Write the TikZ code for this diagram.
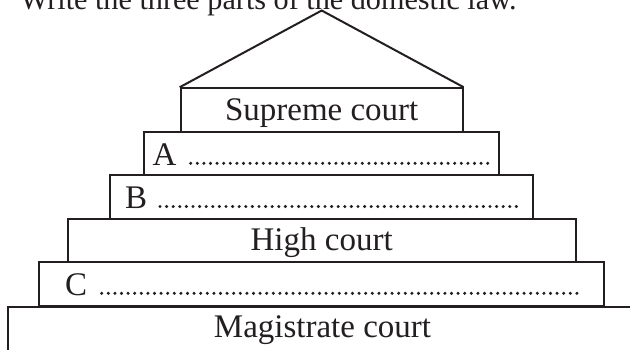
\documentclass[tikz,border=0pt]{standalone}
\usepackage{fontspec}
\setmainfont{Liberation Serif}
\definecolor{ink}{HTML}{231F20}
\begin{document}
\begin{tikzpicture}[x=1pt,y=-1pt,line width=2pt,
  bigtext/.style={font=\fontsize{33}{40}\selectfont, text=ink},
  tier/.style={draw=ink, rectangle, inner sep=0pt, minimum height=43.5pt,
    text height=22pt, text depth=2pt, bigtext},
  lbl/.style={anchor=base west, inner sep=0pt, bigtext},
  leader/.style={draw=ink, line width=3.4pt, line cap=round, dash pattern=on 0pt off 6.6pt}]
\useasboundingbox (0,0) rectangle (630,349);
% title (cut off at top, as in the reference)
\node[anchor=base west, inner sep=0pt, text=ink, font=\fontsize{30.2}{36}\selectfont] (title) at (19,9.5) {Write the three parts of the domestic law.};
% tiers
\node[tier, minimum width=282pt] (sup) at (321.7,110) {Supreme court};
\node[tier, minimum width=354.7pt] (tA) at (321.65,153.5) {};
\node[tier, minimum width=423.3pt] (tB) at (321.65,197) {};
\node[tier, minimum width=508pt] (high) at (321.7,240.5) {High court};
\node[tier, minimum width=565pt] (tC) at (321.5,284) {};
\node[tier, minimum width=700pt, minimum height=80pt, anchor=north west] (mag) at (7.3,305.75) {};
\node[bigtext, anchor=base, inner sep=0pt] (magtext) at (322.5,337.5) {Magistrate court};
% roof
\coordinate (apex) at (321.7,10.5);
\draw[draw=ink, line join=miter] (sup.north west) -- (apex) -- (sup.north east);
% labels and leaders
\node[lbl] (la) at (151.7,165) {A};
\node[lbl] (lb) at (124,208.2) {B};
\node[lbl] (lc) at (64,295) {C};
\coordinate (a0) at (190.7,163.3);
\coordinate (a1) at (491.7,163.3);
\coordinate (b0) at (160,206.5);
\coordinate (b1) at (518.3,206.5);
\coordinate (c0) at (101.7,293.3);
\coordinate (c1) at (578.3,293.3);
\draw[leader] (a0) -- (a1);
\draw[leader] (b0) -- (b1);
\draw[leader] (c0) -- (c1);
\end{tikzpicture}
\end{document}
